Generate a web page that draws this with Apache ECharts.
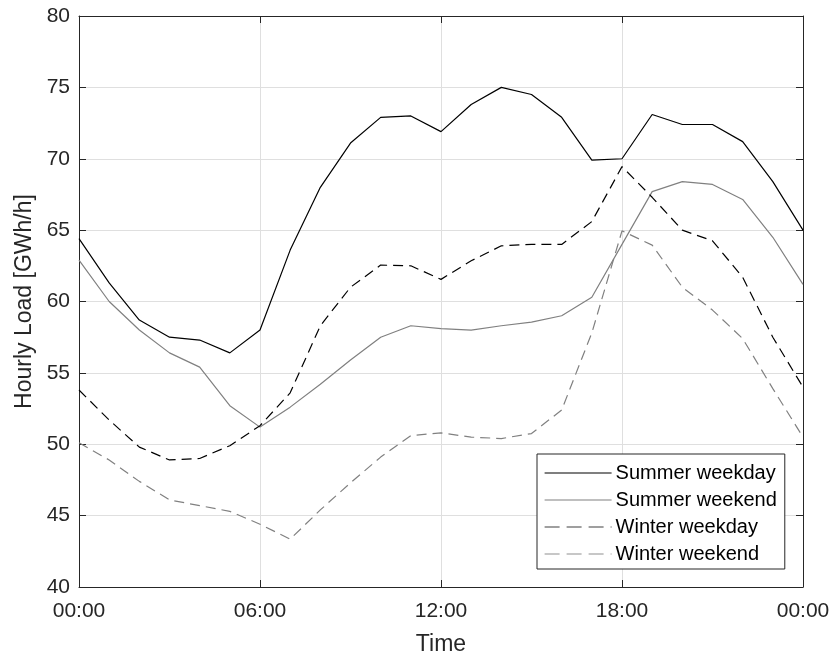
<!DOCTYPE html>
<html>
<head>
<meta charset="utf-8">
<script src="https://cdn.jsdelivr.net/npm/echarts@6/dist/echarts.min.js"></script>
<style>
html,body{margin:0;padding:0;background:#fff;}
#chart{width:831px;height:657px;}
</style>
</head>
<body>
<div id="chart"></div>
<script>
const hours = [0,1,2,3,4,5,6,7,8,9,10,11,12,13,14,15,16,17,18,19,20,21,22,23,24];
const summerWeekday = [64.4,61.3,58.7,57.5,57.3,56.4,58.0,63.6,68.0,71.1,72.9,73.0,71.9,73.8,75.0,74.5,72.9,69.9,70.0,73.1,72.4,72.4,71.2,68.4,65.0];
const summerWeekend = [62.9,60.0,58.0,56.4,55.4,52.7,51.2,52.6,54.2,55.9,57.5,58.3,58.1,58.0,58.3,58.55,59.0,60.3,64.0,67.7,68.4,68.2,67.15,64.5,61.2];
const winterWeekday = [53.8,51.7,49.8,48.9,49.0,49.9,51.3,53.6,58.3,61.0,62.55,62.5,61.55,62.85,63.9,64.0,64.0,65.6,69.45,67.3,65.0,64.25,61.7,57.5,54.0];
const winterWeekend = [50.1,48.9,47.4,46.1,45.7,45.3,44.4,43.35,45.4,47.3,49.1,50.6,50.8,50.5,50.4,50.75,52.4,57.8,64.95,63.95,61.0,59.4,57.4,53.9,50.5];
const seriesNames = ['Summer weekday','Summer weekend','Winter weekday','Winter weekend'];
const xTicks = {min:0, max:24, interval:6};
const yTicks = {min:40, max:80, interval:5};

const pair = arr => hours.map((h,i)=>[h,arr[i]]);
const fmtTime = v => String(v % 24).padStart(2,'0') + ':00';
const axisColor = '#262626';
const font = 'Liberation Sans, Arial, Helvetica, sans-serif';

const chart = echarts.init(document.getElementById('chart'), null, {renderer:'canvas'});
const baseAxis = {
  axisLine:{show:true, onZero:false, lineStyle:{color:axisColor, width:1}},
  axisTick:{show:true, inside:true, length:7, lineStyle:{color:axisColor}},
  splitLine:{show:true, lineStyle:{color:'#dfdfdf', width:1}},
};
const mk = (name, data, color, dashed) => ({
  name, type:'line', data, symbol:'none', smooth:false, animation:false,
  lineStyle:{color, width:1.2, type: dashed ? [10,6] : 'solid'},
  itemStyle:{color}
});
const legendItem = (name, color, dashed) => ({
  name, lineStyle:{color, width:1.2, type: dashed ? [15,7] : 'solid'}
});
chart.setOption({
  animation:false,
  backgroundColor:'#fff',
  textStyle:{fontFamily:font},
  grid:{left:79, right:28, top:16, bottom:70, containLabel:false, outerBoundsMode:'none'},
  legend:{
    orient:'vertical', left:537, top:454,
    itemWidth:67, itemHeight:20, itemGap:7, itemStyle:{opacity:0},
    padding:[9,8,5,7],
    borderColor:axisColor, borderWidth:1, backgroundColor:'#fff',
    textStyle:{fontSize:20, color:'#000', fontFamily:font, padding:[0,0,0,-1]},
    data:[
      legendItem(seriesNames[0], '#000000', false),
      legendItem(seriesNames[1], '#808080', false),
      legendItem(seriesNames[2], '#404040', true),
      legendItem(seriesNames[3], '#909090', true)
    ]
  },
  xAxis:[
    Object.assign({}, baseAxis, {
      type:'value', min:xTicks.min, max:xTicks.max, interval:xTicks.interval, position:'bottom',
      name:'Time', nameLocation:'middle', nameGap:46,
      nameTextStyle:{fontSize:23, color:axisColor, fontFamily:font},
      axisLabel:{formatter:fmtTime, fontSize:21, color:axisColor, margin:14, fontFamily:font}
    }),
    Object.assign({}, baseAxis, {
      type:'value', min:xTicks.min, max:xTicks.max, interval:xTicks.interval, position:'top',
      axisLabel:{show:false}, splitLine:{show:false}
    })
  ],
  yAxis:[
    Object.assign({}, baseAxis, {
      type:'value', min:yTicks.min, max:yTicks.max, interval:yTicks.interval, position:'left',
      name:'Hourly Load [GWh/h]', nameLocation:'middle', nameGap:43,
      nameTextStyle:{fontSize:23, color:axisColor, fontFamily:font},
      axisLabel:{fontSize:21, color:axisColor, margin:9, fontFamily:font}
    }),
    Object.assign({}, baseAxis, {
      type:'value', min:yTicks.min, max:yTicks.max, interval:yTicks.interval, position:'right',
      axisLabel:{show:false}, splitLine:{show:false}
    })
  ],
  series:[
    mk(seriesNames[0], pair(summerWeekday), '#000000', false),
    mk(seriesNames[1], pair(summerWeekend), '#808080', false),
    mk(seriesNames[2], pair(winterWeekday), '#000000', true),
    mk(seriesNames[3], pair(winterWeekend), '#808080', true)
  ]
});
</script>
</body>
</html>
